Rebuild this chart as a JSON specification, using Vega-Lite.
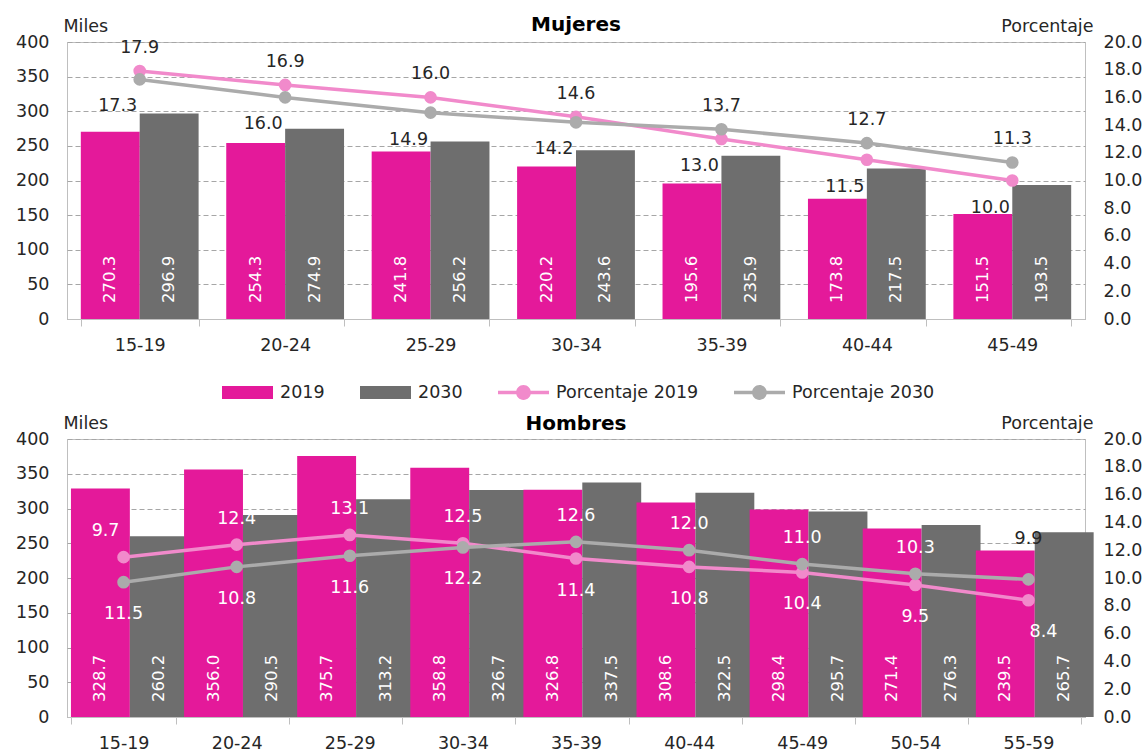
{
  "$schema": "https://vega.github.io/schema/vega-lite/v6.json",
  "padding": {"left": 15, "top": 14, "right": 2, "bottom": 0},
  "spacing": 59,
  "datasets": {
    "mujeres": [
      {"grupo": "15-19", "anio": "2019", "miles": 270.3, "pct": 17.9},
      {"grupo": "15-19", "anio": "2030", "miles": 296.9, "pct": 17.3},
      {"grupo": "20-24", "anio": "2019", "miles": 254.3, "pct": 16.9},
      {"grupo": "20-24", "anio": "2030", "miles": 274.9, "pct": 16.0},
      {"grupo": "25-29", "anio": "2019", "miles": 241.8, "pct": 16.0},
      {"grupo": "25-29", "anio": "2030", "miles": 256.2, "pct": 14.9},
      {"grupo": "30-34", "anio": "2019", "miles": 220.2, "pct": 14.6},
      {"grupo": "30-34", "anio": "2030", "miles": 243.6, "pct": 14.2},
      {"grupo": "35-39", "anio": "2019", "miles": 195.6, "pct": 13.0},
      {"grupo": "35-39", "anio": "2030", "miles": 235.9, "pct": 13.7},
      {"grupo": "40-44", "anio": "2019", "miles": 173.8, "pct": 11.5},
      {"grupo": "40-44", "anio": "2030", "miles": 217.5, "pct": 12.7},
      {"grupo": "45-49", "anio": "2019", "miles": 151.5, "pct": 10.0},
      {"grupo": "45-49", "anio": "2030", "miles": 193.5, "pct": 11.3}
    ],
    "hombres": [
      {"grupo": "15-19", "anio": "2019", "miles": 328.7, "pct": 11.5},
      {"grupo": "15-19", "anio": "2030", "miles": 260.2, "pct": 9.7},
      {"grupo": "20-24", "anio": "2019", "miles": 356.0, "pct": 12.4},
      {"grupo": "20-24", "anio": "2030", "miles": 290.5, "pct": 10.8},
      {"grupo": "25-29", "anio": "2019", "miles": 375.7, "pct": 13.1},
      {"grupo": "25-29", "anio": "2030", "miles": 313.2, "pct": 11.6},
      {"grupo": "30-34", "anio": "2019", "miles": 358.8, "pct": 12.5},
      {"grupo": "30-34", "anio": "2030", "miles": 326.7, "pct": 12.2},
      {"grupo": "35-39", "anio": "2019", "miles": 326.8, "pct": 11.4},
      {"grupo": "35-39", "anio": "2030", "miles": 337.5, "pct": 12.6},
      {"grupo": "40-44", "anio": "2019", "miles": 308.6, "pct": 10.8},
      {"grupo": "40-44", "anio": "2030", "miles": 322.5, "pct": 12.0},
      {"grupo": "45-49", "anio": "2019", "miles": 298.4, "pct": 10.4},
      {"grupo": "45-49", "anio": "2030", "miles": 295.7, "pct": 11.0},
      {"grupo": "50-54", "anio": "2019", "miles": 271.4, "pct": 9.5},
      {"grupo": "50-54", "anio": "2030", "miles": 276.3, "pct": 10.3},
      {"grupo": "55-59", "anio": "2019", "miles": 239.5, "pct": 8.4},
      {"grupo": "55-59", "anio": "2030", "miles": 265.7, "pct": 9.9}
    ]
  },
  "vconcat": [
    {
      "width": 1018,
      "height": 277,
      "title": {"text": "Mujeres", "frame": "group", "offset": -18},
      "data": {"name": "mujeres"},
      "transform": [
        {"calculate": "'Porcentaje ' + datum.anio", "as": "serie"},
        {"joinaggregate": [{"op": "max", "field": "pct", "as": "pmax"}, {"op": "min", "field": "pct", "as": "pmin"}], "groupby": ["grupo"]}
      ],
      "encoding": {
        "x": {
          "field": "grupo", "type": "nominal", "sort": null,
          "scale": {"paddingInner": 0.19, "paddingOuter": 0.095},
          "axis": {"title": null, "labelAngle": 0, "tickBand": "extent", "ticks": true, "tickSize": 7, "tickColor": "#BFBFBF", "domainColor": "#BFBFBF", "labelPadding": 10, "grid": false}
        }
      },
      "layer": [
        {
          "mark": {"type": "bar"},
          "encoding": {
            "xOffset": {"field": "anio", "type": "nominal"},
            "y": {
              "field": "miles", "type": "quantitative",
              "scale": {"domain": [0, 400], "nice": false},
              "axis": {"title": "Miles", "titleAngle": 0, "titleAlign": "left", "titleBaseline": "alphabetic", "titleX": -4, "titleY": -11, "values": [0, 50, 100, 150, 200, 250, 300, 350, 400], "ticks": false, "domain": false, "labelPadding": 18, "grid": true, "gridDash": [5, 3], "gridColor": "#A6A6A6"}
            },
            "color": {
              "field": "anio", "type": "nominal",
              "scale": {"domain": ["2019", "2030", "Porcentaje 2019", "Porcentaje 2030"], "range": ["#E4199A", "#6E6E6E", "#F18ACB", "#ABABAB"]},
              "legend": {
                "title": null, "orient": "none", "direction": "horizontal", "legendX": 155, "legendY": 325,
                "symbolSize": 2601, "labelOffset": 7, "columnPadding": 35, "symbolStrokeWidth": 0,
                "encode": {"symbols": {"update": {
                  "shape": {"signal": "indexof(datum.value, 'Porc') >= 0 ? 'M-1,-0.07H1V0.07H-1ZM0.29,0A0.29,0.29,0,1,1,-0.29,0A0.29,0.29,0,1,1,0.29,0Z' : 'M-1,-0.255H1V0.255H-1Z'"},
                  "fill": {"signal": "datum.value === '2019' ? '#E4199A' : datum.value === '2030' ? '#6E6E6E' : datum.value === 'Porcentaje 2019' ? '#F18ACB' : '#ABABAB'"},
                  "opacity": {"value": 1},
                  "size": {"value": 2601},
                  "strokeWidth": {"value": 0}
                }}}
              }
            }
          }
        },
        {
          "mark": {"type": "text", "angle": 270, "align": "left", "baseline": "middle", "dx": 16, "fontSize": 16.5, "color": "white"},
          "encoding": {
            "xOffset": {"field": "anio", "type": "nominal"},
            "y": {"datum": 0, "type": "quantitative", "scale": {"domain": [0, 400], "nice": false}, "axis": null},
            "text": {"field": "miles", "type": "quantitative", "format": ".1f"}
          }
        },
        {
          "mark": {"type": "line", "strokeWidth": 3.5},
          "encoding": {
            "y": {
              "field": "pct", "type": "quantitative",
              "scale": {"domain": [0, 20], "nice": false},
              "axis": {"orient": "right", "title": "Porcentaje", "titleAngle": 0, "titleAlign": "right", "titleBaseline": "alphabetic", "titleX": 8, "titleY": -11, "values": [0, 2, 4, 6, 8, 10, 12, 14, 16, 18, 20], "format": ".1f", "ticks": false, "domain": false, "labelPadding": 18, "grid": false}
            },
            "color": {"field": "serie", "type": "nominal"}
          }
        },
        {
          "mark": {"type": "point", "filled": true, "size": 160, "opacity": 1},
          "encoding": {
            "y": {"field": "pct", "type": "quantitative", "scale": {"domain": [0, 20], "nice": false}, "axis": null},
            "color": {"field": "serie", "type": "nominal"}
          }
        },
        {
          "transform": [{"filter": "datum.pct == datum.pmax"}],
          "mark": {"type": "text", "dy": -23, "fontSize": 17.5, "color": "#262626"},
          "encoding": {
            "y": {"field": "pmax", "type": "quantitative", "scale": {"domain": [0, 20], "nice": false}, "axis": null},
            "text": {"field": "pct", "type": "quantitative", "format": ".1f"}
          }
        },
        {
          "transform": [{"filter": "datum.pct != datum.pmax"}],
          "mark": {"type": "text", "dy": 27, "dx": -22, "fontSize": 17.5, "color": "#262626"},
          "encoding": {
            "y": {"field": "pmin", "type": "quantitative", "scale": {"domain": [0, 20], "nice": false}, "axis": null},
            "text": {"field": "pct", "type": "quantitative", "format": ".1f"}
          }
        }
      ],
      "resolve": {"scale": {"y": "independent"}}
    },
    {
      "width": 1018,
      "height": 278,
      "title": {"text": "Hombres", "frame": "group", "offset": -20},
      "data": {"name": "hombres"},
      "transform": [
        {"calculate": "'Porcentaje ' + datum.anio", "as": "serie"},
        {"joinaggregate": [{"op": "max", "field": "pct", "as": "pmax"}, {"op": "min", "field": "pct", "as": "pmin"}], "groupby": ["grupo"]}
      ],
      "encoding": {
        "x": {
          "field": "grupo", "type": "nominal", "sort": null,
          "scale": {"paddingInner": 0.07, "paddingOuter": 0.035},
          "axis": {"title": null, "labelAngle": 0, "tickBand": "extent", "ticks": true, "tickSize": 7, "tickColor": "#BFBFBF", "domainColor": "#BFBFBF", "labelPadding": 10, "grid": false}
        }
      },
      "layer": [
        {
          "mark": {"type": "bar"},
          "encoding": {
            "xOffset": {"field": "anio", "type": "nominal"},
            "y": {
              "field": "miles", "type": "quantitative",
              "scale": {"domain": [0, 400], "nice": false},
              "axis": {"title": "Miles", "titleAngle": 0, "titleAlign": "left", "titleBaseline": "alphabetic", "titleX": -4, "titleY": -11, "values": [0, 50, 100, 150, 200, 250, 300, 350, 400], "ticks": false, "domain": false, "labelPadding": 18, "grid": true, "gridDash": [5, 3], "gridColor": "#A6A6A6"}
            },
            "color": {
              "field": "anio", "type": "nominal",
              "scale": {"domain": ["2019", "2030", "Porcentaje 2019", "Porcentaje 2030"], "range": ["#E4199A", "#6E6E6E", "#F18ACB", "#ABABAB"]}
            }
          }
        },
        {
          "mark": {"type": "text", "angle": 270, "align": "left", "baseline": "middle", "dx": 15, "fontSize": 16.5, "color": "white"},
          "encoding": {
            "xOffset": {"field": "anio", "type": "nominal"},
            "y": {"datum": 0, "type": "quantitative", "scale": {"domain": [0, 400], "nice": false}, "axis": null},
            "text": {"field": "miles", "type": "quantitative", "format": ".1f"}
          }
        },
        {
          "mark": {"type": "line", "strokeWidth": 3.5},
          "encoding": {
            "y": {
              "field": "pct", "type": "quantitative",
              "scale": {"domain": [0, 20], "nice": false},
              "axis": {"orient": "right", "title": "Porcentaje", "titleAngle": 0, "titleAlign": "right", "titleBaseline": "alphabetic", "titleX": 8, "titleY": -11, "values": [0, 2, 4, 6, 8, 10, 12, 14, 16, 18, 20], "format": ".1f", "ticks": false, "domain": false, "labelPadding": 18, "grid": false}
            },
            "color": {"field": "serie", "type": "nominal"}
          }
        },
        {
          "mark": {"type": "point", "filled": true, "size": 160, "opacity": 1},
          "encoding": {
            "y": {"field": "pct", "type": "quantitative", "scale": {"domain": [0, 20], "nice": false}, "axis": null},
            "color": {"field": "serie", "type": "nominal"}
          }
        },
        {
          "transform": [{"filter": "(datum.pct == datum.pmax) != (datum.grupo == '15-19')"}],
          "mark": {"type": "text", "fontSize": 17.5,
                   "dx": {"expr": "datum.grupo == '15-19' ? -18 : 0"},
                   "dy": {"expr": "datum.grupo == '55-59' ? -40 : -26"}},
          "encoding": {
            "y": {"field": "pmax", "type": "quantitative", "scale": {"domain": [0, 20], "nice": false}, "axis": null},
            "text": {"field": "pct", "type": "quantitative", "format": ".1f"},
            "color": {"condition": {"test": "datum.grupo == '55-59'", "value": "#262626"}, "value": "white"}
          }
        },
        {
          "transform": [{"filter": "(datum.pct == datum.pmax) == (datum.grupo == '15-19')"}],
          "mark": {"type": "text", "dy": 32, "fontSize": 17.5, "color": "white",
                   "dx": {"expr": "datum.grupo == '55-59' ? 15 : 0"}},
          "encoding": {
            "y": {"field": "pmin", "type": "quantitative", "scale": {"domain": [0, 20], "nice": false}, "axis": null},
            "text": {"field": "pct", "type": "quantitative", "format": ".1f"}
          }
        }
      ],
      "resolve": {"scale": {"y": "independent"}}
    }
  ],
  "resolve": {"scale": {"x": "independent", "y": "independent", "color": "shared"}},
  "config": {
    "font": "DejaVu Sans",
    "view": {"stroke": "#BFBFBF"},
    "axis": {"labelFont": "DejaVu Sans", "labelFontSize": 17.5, "labelColor": "#262626", "titleFont": "DejaVu Sans", "titleFontSize": 17.5, "titleFontWeight": "normal", "titleColor": "#262626"},
    "legend": {"labelFont": "DejaVu Sans", "labelFontSize": 17.5, "labelColor": "#262626"},
    "title": {"font": "DejaVu Sans", "fontSize": 20, "fontWeight": "bold", "color": "#000000", "anchor": "middle"},
    "text": {"font": "DejaVu Sans"}
  }
}
